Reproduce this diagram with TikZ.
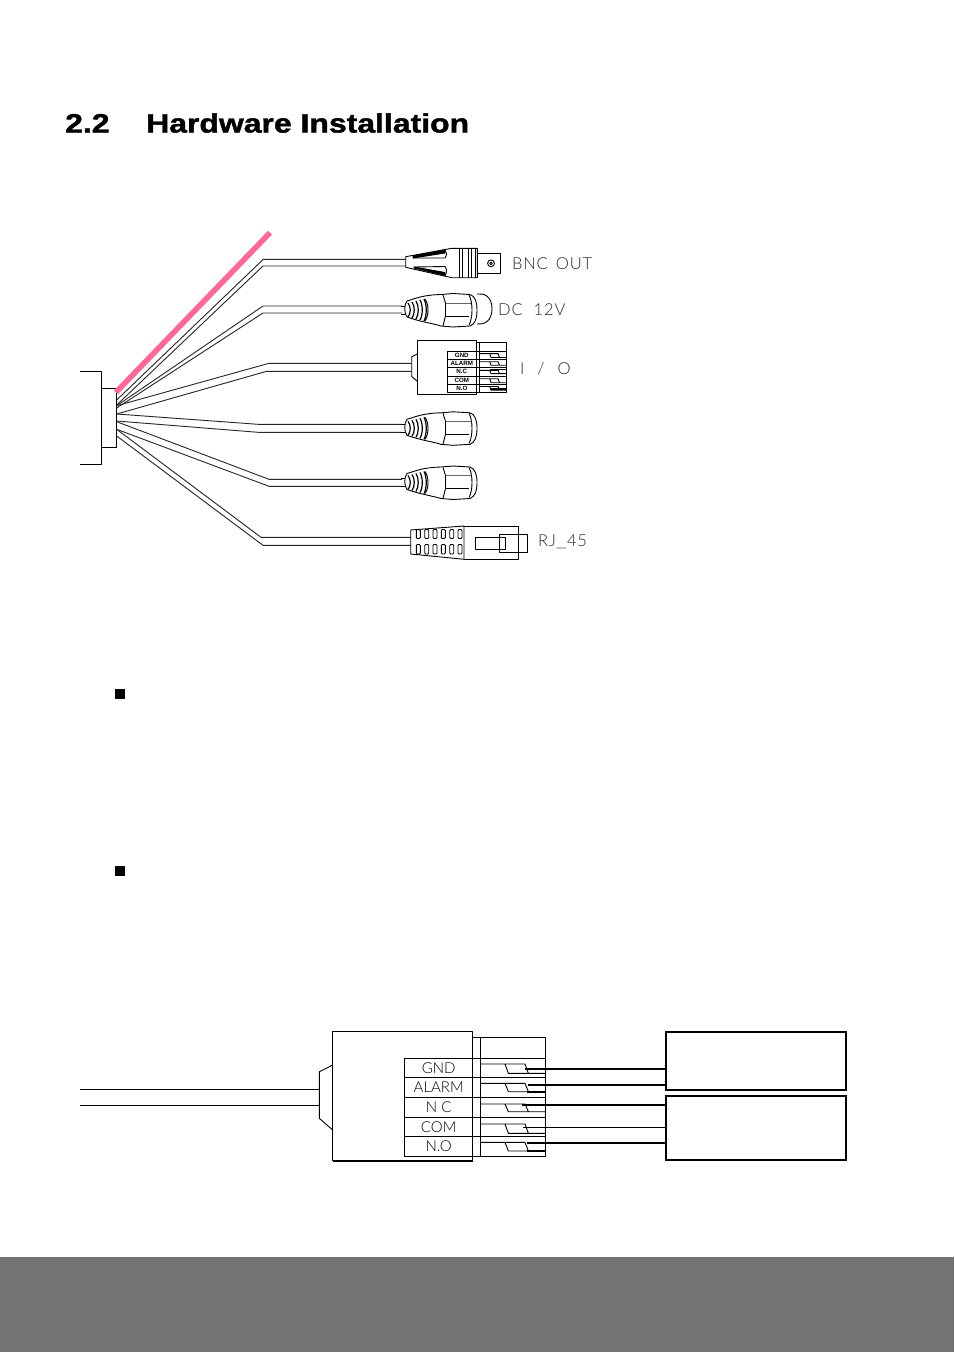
\documentclass[tikz,border=0pt]{standalone}
\usepackage{fontspec}
\setmainfont{Liberation Sans}
\newfontfamily\titlefont{Liberation Sans}[UprightFont=* Bold,FakeBold=1.6,FakeStretch=1.205]
\newfontfamily\cadfont{Lato}[UprightFont=* Light]
\newfontfamily\cadwide{Lato}[UprightFont=* Light,LetterSpace=5]
\definecolor{pinkline}{HTML}{FF6699}
\definecolor{footer}{HTML}{737373}
\tikzset{
  wire/.style={draw=black!85,line width=.9pt,line join=round},
  part/.style={draw=black,line width=.9pt,line join=round},
  soft/.style={draw=black!60,line width=.9pt},
  thick wire/.style={draw=black,line width=2pt},
  relaybox/.style={draw=black,line width=2pt},
  caplabel/.style={font=\cadwide\fontsize{16.5}{16.5}\selectfont,text=black!85,inner sep=0pt,anchor=west},
  pinlabel/.style={inner sep=0pt,text=black},
  titletext/.style={inner sep=0pt,anchor=base west,font=\titlefont\fontsize{26.5}{26.5}\selectfont},
}
% two-conductor wire: id, start, bend, end
\newcommand{\cablerun}[4]{%
  \coordinate (s#1) at #2; \coordinate (b#1) at #3; \coordinate (e#1) at #4;
  \draw[wire] (s#1) -- (b#1) -- (e#1);}
% moulded plug: origin at cable entry, centre height
\newcommand{\plugshape}[2]{%
  \begin{scope}[shift={(#1,#2)}]
    \draw[part,fill=white] (0,-4) -- (4,-4) (0,4) -- (4,4);
    \draw[part,fill=white] (6,-9) .. controls (16,-12) and (22,-15) .. (40,-15.5)
      -- (52,-16.5) -- (69,-15.5) .. controls (74,-14) and (76,-8) .. (76,0)
      .. controls (76,9) and (74,14) .. (69,16) -- (52,17) -- (40,16)
      .. controls (30,13) and (20,12) .. (6,7)
      .. controls (3,3) and (3,-5) .. (6,-9) -- cycle;
    \foreach \x/\r in {7/7,11/8,15/9,19/10,23/11}
      \draw[part,line width=1.2pt] (\x,-\r) .. controls (\x+3,-\r/2) and (\x+3,\r/2) .. (\x,\r);
    \draw[part] (24,-11) .. controls (28,-6) and (28,6) .. (24,11);
    \draw[soft] (44,-7) -- (70,-7);
    \draw[part] (42,-15) -- (44.5,-7) -- (44.5,6) -- (42,16);
    \draw[part] (44.5,6) -- (68,6);
    \draw[part] (68,-15) .. controls (72,-8) and (72,8) .. (68,15);
  \end{scope}}
% terminal block: origin, scale, font size, labels
\newcommand{\terminalblock}[9]{%
  \begin{scope}[shift={(#1,#2)},scale=#3]
    \draw[part] (0,33.3) -- (-13.3,40) -- (-13.3,86.7) -- (0,98.3);
    \draw[part] (0,0) -- (140,0) -- (140,129) -- (0,129) -- cycle;
    \draw[part] (140,5.7) -- (212.7,5.7) -- (212.7,124.3) -- (72,124.3) -- (72,26.7) -- (212.7,26.7);
    \draw[part] (147.7,5.7) -- (147.7,124.3);
    \foreach \y in {45.7,65.7,85.7,105} \draw[part] (72,\y) -- (212.7,\y);
    \foreach \t/\b in {32.3/41.7,51.7/60,72.3/80,92.3/101.7,110.7/119.3}
      \draw[part] (147.7,\t) -- (172.3,\t) -- (175.7,\b) -- (212.7,\b)
        (172.3,\t) -- (192.3,\t) -- (195.7,\b);
    \node[pinlabel,font=#4] (#5a) at (106,36.2) {#5};
    \node[pinlabel,font=#4] (#5b) at (106,55.7) {#6};
    \node[pinlabel,font=#4] (#5c) at (106,75.7) {#7};
    \node[pinlabel,font=#4] (#5d) at (106,95.3) {#8};
    \node[pinlabel,font=#4] (#5e) at (106,114.7) {#9};
  \end{scope}}
\begin{document}
\begin{tikzpicture}[x=1pt,y=-1pt]
\path[use as bounding box,fill=white] (0,0) rectangle (954,1352);
\fill[footer] (0,1257) rectangle (954,1352);
% heading
\node[titletext] (secnum) at (65,132.5) {2.2};
\node[titletext] (sectitle) at (146,132.5) {Hardware Installation};
% cable housing
\draw[part] (80,371) -- (101,371) -- (101,464) -- (80,464);
\draw[part] (101,388.5) -- (116.5,388.5) -- (116.5,447) -- (101,447);
% wires
\cablerun{a}{(116.7,400)}{(263.3,259.3)}{(406,259.3)}
\cablerun{b}{(116.7,405)}{(263,266)}{(406,266)}
\cablerun{c}{(116.7,405.7)}{(263,306)}{(402,306)}
\cablerun{d}{(116.7,408)}{(263,313)}{(402,313)}
\cablerun{e}{(116.7,405.7)}{(269,363.3)}{(411,363.3)}
\cablerun{f}{(116.7,414)}{(266.7,371.3)}{(411,371.3)}
\cablerun{g}{(116.7,414)}{(258,424.3)}{(402,424.3)}
\cablerun{h}{(116.7,421)}{(258,432.3)}{(402,432.3)}
\cablerun{i}{(116.7,421.7)}{(269,479.3)}{(402,479.3)}
\cablerun{j}{(116.7,429.3)}{(269,486.3)}{(402,486.3)}
\cablerun{k}{(116.7,429.3)}{(261,537.3)}{(411,537.3)}
\cablerun{l}{(116.7,436)}{(263,545.3)}{(411,545.3)}
% pink stroke
\coordinate (pinkA) at (116,392.3);
\coordinate (pinkB) at (270,232.7);
\draw[pinkline,line width=5.5pt] (pinkA) -- (pinkB);
% BNC
\draw[part,fill=white] (405.7,256.7) -- (451.7,248.3) -- (477.3,248.3) -- (477.3,277.7) -- (451.7,277.7) -- (405.7,267.3) -- cycle;
\draw[part] (477.3,253.3) -- (500,253.3) -- (500,273.3) -- (477.3,273.3);
\foreach \x in {459,462,468,471,475} \draw[part] (\x,248.3) -- (\x,277.7);
\draw[part,fill=black] (413,256) -- (445,250) -- (445,253) -- (413,258) -- cycle;
\draw[part] (413,258) -- (445,258) .. controls (447,255) and (447,252) .. (445,250);
\draw[part,fill=black] (414,268) -- (445,275.5) -- (445,272.5) -- (414,267) -- cycle;
\draw[part] (414,267) -- (445,266.5) .. controls (447,269) and (447,273) .. (445,275.5);
\draw[part] (491,263.3) circle (3.4);
\draw[part] (491,263.3) circle (1.4);
% plugs
\plugshape{401}{310}
\draw[part] (477,294) .. controls (484,293) and (492,296) .. (492,309) .. controls (492,321) and (484,325) .. (477,324);
\plugshape{401}{428.3}
\plugshape{401}{482.5}
% small terminal
\terminalblock{417.3}{340}{.42}{\fontsize{6.2}{6.2}\bfseries\selectfont}{GND}{ALARM}{N.C}{COM}{N.O}
\draw[part,line width=1.6pt] (490,369.5) -- (506.7,369.5);
\draw[part,line width=1.6pt] (490,389) -- (506.7,389);
% RJ45
\draw[part] (410.7,530) -- (464,526) -- (464,559.3) -- (410.7,554) -- cycle;
\draw[part] (464,526) -- (518.3,526) -- (518.3,559.3) -- (464,559.3);
\foreach \x in {418.3,426.7,435,443.3,451.7,460} {
  \draw[part,rounded corners=1pt] (\x-2,529.5) rectangle (\x+2,538.5);
  \draw[part,rounded corners=1pt] (\x-2,544.5) rectangle (\x+2,554);
}
\draw[part] (499.3,534.3) rectangle (527.7,552.7);
\draw[part] (475,537.7) rectangle (505,549);
\draw[part] (518.3,534.3) -- (518.3,552.7);
% captions
\node[caplabel] (capbnc) at (512,263.5) {BNC\hspace{8pt}OUT};
\node[caplabel] (capdc) at (498,309.5) {DC\hspace{11pt}12V};
\node[caplabel] (capio) at (520,369) {I\hspace{13pt}/\hspace{13pt}O};
\node[caplabel] (caprj) at (538,541.5) {RJ\scalebox{1.5}[1]{\_}45};
% bullets
\node[fill=black,minimum size=10pt,inner sep=0pt] (bulA) at (120,694) {};
\node[fill=black,minimum size=10pt,inner sep=0pt] (bulB) at (120,871) {};
% large terminal
\terminalblock{332.7}{1031.7}{1}{\cadfont\fontsize{15}{15}\selectfont}{GND}{ALARM}{N C}{COM}{N.O}
\draw[part,line width=1.6pt] (332.7,1160.7) -- (472.7,1160.7);
\coordinate (cable1) at (80,1089.5); \coordinate (cable1e) at (319.4,1089.5);
\coordinate (cable2) at (80,1105); \coordinate (cable2e) at (319.4,1105);
\draw[part] (cable1) -- (cable1e) (cable2) -- (cable2e);
% thick pin returns
\draw[part,line width=1.7pt] (508.4,1073.4) -- (545.3,1073.4);
\draw[part,line width=1.7pt] (526.7,1091.7) -- (545.3,1091.7);
\draw[part,line width=1.7pt] (508.4,1133.4) -- (545.3,1133.4);
\draw[part,line width=1.7pt] (526.7,1151) -- (545.3,1151);
% relay boxes
\node[relaybox,minimum width=180pt,minimum height=58pt,inner sep=0pt] (relayA) at (755.8,1061) {};
\node[relaybox,minimum width=180pt,minimum height=64pt,inner sep=0pt] (relayB) at (755.8,1128) {};
\coordinate (t1) at (525,1068.7);
\coordinate (t2) at (527.7,1084.7);
\coordinate (t3) at (521.7,1105);
\coordinate (t4) at (523,1127.3);
\coordinate (t5) at (526.7,1142.7);
\draw[thick wire] (t1) -- (t1 -| relayA.west);
\draw[thick wire] (t2) -- (t2 -| relayA.west);
\draw[thick wire] (t3) -- (t3 -| relayB.west);
\draw[part] (t4) -- (t4 -| relayB.west);
\draw[thick wire] (t5) -- (t5 -| relayB.west);
\end{tikzpicture}
\end{document}
